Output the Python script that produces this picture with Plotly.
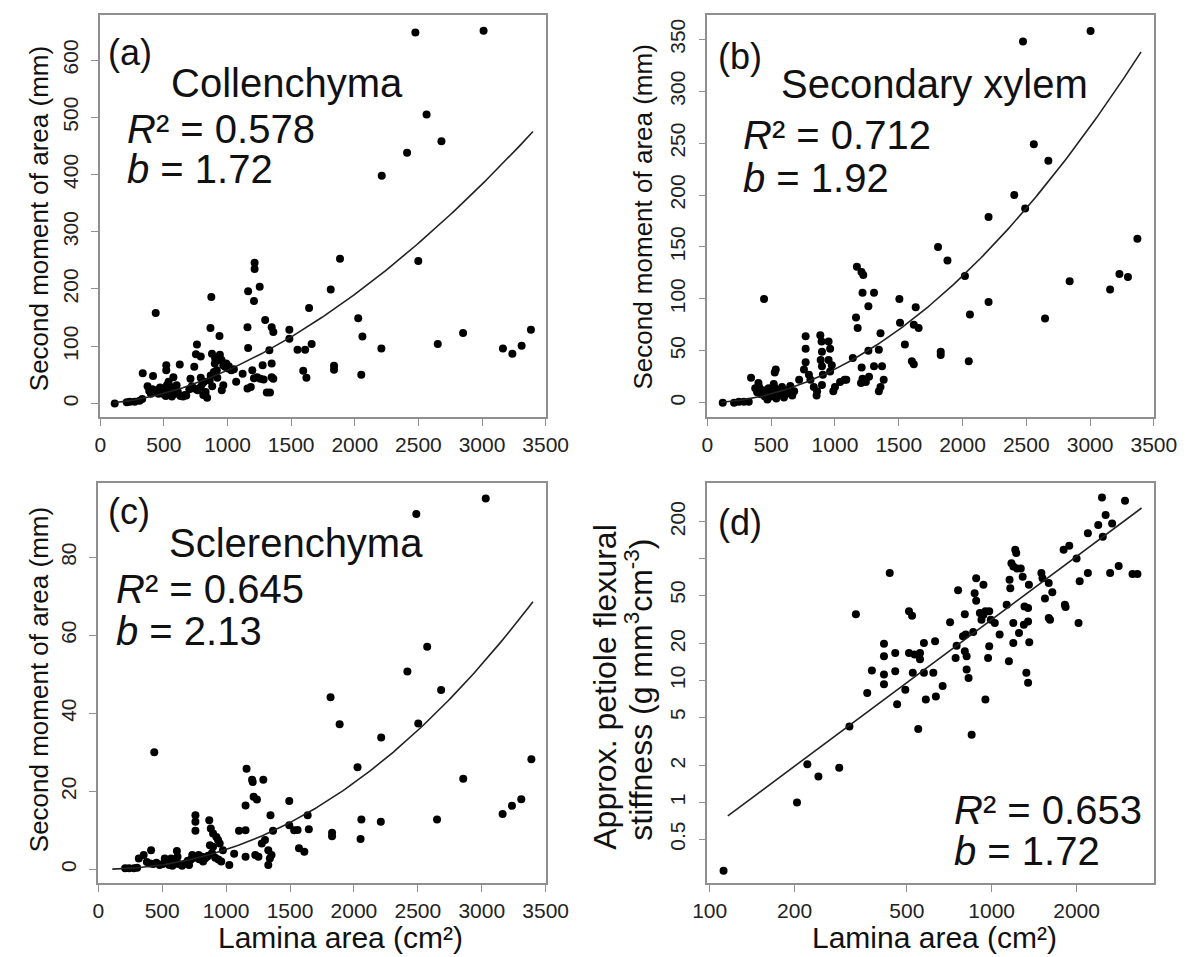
import plotly.graph_objects as go
import numpy as np

W, H = 1203, 957
FONT = "Liberation Sans, Arial, sans-serif"

# ---------------- data ----------------
# (a) Collenchyma: lamina area (cm2) vs second moment of area
area_a = [114, 208, 233, 271, 309, 330, 334, 415, 436, 372, 385, 398, 420, 445, 458, 485, 500, 525, 550, 563,
          590, 600, 630, 665, 410, 470, 515, 540, 610, 519, 519, 575, 625, 537, 524, 580, 600, 676, 651, 709,
          739, 760, 752, 790, 765, 790, 803, 815, 739, 840, 828, 873, 866, 937, 878, 903, 928, 953, 967, 980,
          1005, 1030, 868, 893, 916, 955, 967, 1068, 1119, 1195, 1208, 1157, 1162, 1208, 1213, 1213, 1253, 1162,
          1296, 1347, 1360, 1329, 1233, 1258, 1157, 1183, 1284, 1347, 1347, 1360, 1309, 1334, 1276, 1486, 1486,
          1550, 1610, 1595, 1620, 1641, 1661, 1811, 1837, 1837, 1884, 2027, 2060, 2051, 2212, 2209, 2411, 2476,
          2499, 2564, 2681, 2652, 2851, 3012, 3164, 3238, 3311, 3384,
          900, 940, 990, 1010, 860, 880, 920, 1050, 700, 720, 790, 810]
sma_a = [0, 2, 3, 3, 5, 8, 53, 48, 158, 30, 22, 17, 20, 23, 17, 23, 16, 26, 20, 12,
         17, 23, 13, 15, 25, 28, 13, 18, 20, 67, 58, 46, 68, 38, 32, 29, 32, 14, 12, 43,
         64, 103, 86, 82, 23, 29, 35, 38, 26, 10, 20, 186, 132, 118, 87, 79, 76, 76, 67, 64,
         61, 58, 49, 55, 58, 23, 32, 38, 52, 58, 44, 133, 196, 179, 246, 235, 204, 97,
         146, 133, 125, 93, 46, 43, 26, 29, 42, 70, 46, 43, 19, 19, 67, 129, 113,
         94, 94, 57, 45, 167, 104, 199, 66, 59, 253, 149, 117, 50, 398, 96, 438, 648,
         249, 505, 458, 104, 123, 651, 96, 87, 101, 129,
         70, 85, 70, 65, 40, 30, 45, 60, 25, 30, 45, 15]

# (b) Secondary xylem
area_b = [120, 209, 247, 286, 324, 342, 444,
          375, 390, 405, 420, 435, 450, 465, 480, 495, 510, 520, 540, 555, 570, 585, 600, 615, 630, 650, 665,
          680, 400, 530, 470,
          536, 528, 719, 770, 770, 770, 757, 796, 808, 834, 860, 856,
          885, 895, 898, 888, 898, 905, 898,
          950, 962, 950, 975, 962,
          987, 1000, 1040, 1075, 1089,
          1140, 1165, 1178, 1209, 1216, 1204, 1242, 1267, 1216, 1306, 1262, 1262, 1344, 1357, 1306, 1369, 1382,
          1357, 1344,
          1172, 1208, 1222,
          1505, 1510, 1548, 1633, 1618, 1656, 1603, 1618,
          1808, 1882, 1829, 1829, 2019, 2204, 2058, 2049, 2204, 2406, 2491, 2474, 2559, 2673, 2647, 2840, 3004,
          3157, 3230, 3297, 3371]
sma_b = [0, 0, 1, 1, 1, 24, 100,
         14, 10, 15, 8, 12, 6, 10, 14, 6, 9, 18, 4, 12, 8, 15, 5, 12, 9, 16, 7,
         11, 19, 14, 3,
         32, 29, 22, 64, 52, 39, 32, 27, 22, 15, 11, 7,
         65, 59, 49, 41, 35, 27, 17,
         59, 52, 41, 36, 30,
         11, 15, 20, 22, 22,
         43, 82, 72, 34, 23, 19, 20, 25, 106, 106, 93, 50, 51, 67, 35, 35, 22,
         15, 11,
         131, 126, 123,
         100, 77, 56, 92, 75, 72, 40, 37,
         150, 137, 49, 46, 122, 97, 85, 40, 179, 200, 187, 348, 249, 233, 81, 117, 358,
         109, 124, 121, 158]

# (c) Sclerenchyma
area_c = [210, 241, 279, 304, 317, 355, 413, 438,
          380, 405, 430, 455, 480, 505, 530, 555, 580, 605, 630, 655, 680, 710, 520, 570, 620, 615,
          760, 760, 760, 735, 785, 810, 835, 850,
          868, 880, 898, 924, 937, 950,
          873, 898, 975, 962, 1025, 1063,
          1101, 1152, 1160, 1203, 1208, 1291, 1215, 1241, 1152,
          1152, 1228, 1253, 1279, 1304, 1330, 1342, 1330, 1355, 1347, 1367,
          1494, 1494, 1532, 1570, 1559, 1612, 1638, 1647,
          1817, 1888, 1829, 1829, 2028, 2058, 2052, 2213, 2210, 2418, 2488, 2503, 2573, 2682, 2650, 2855,
          3031, 3163, 3236, 3309, 3388,
          700, 725, 750, 790, 820, 860, 890, 915, 940]
sma_c = [0.3, 0.3, 0.3, 0.4, 2.8, 3.7, 4.9, 30,
         1.9, 1.5, 1.4, 1.7, 1.1, 1.4, 1.7, 1.1, 0.9, 1.5, 1.4, 0.9, 1.5, 1.1, 2.8, 2.8, 3.2, 4.7,
         13.9, 12.2, 9.9, 3.7, 3.7, 3.2, 2.8, 3.2,
         12.6, 10.5, 9.2, 8.3, 7.5, 6.6,
         6.2, 5.8, 4.9, 2.0, 1.1, 4.0,
         9.9, 10.0, 25.8, 23, 22.4, 23, 18.6, 17.9, 16.4,
         3.2, 3.7, 3.2, 6.6, 7.5, 4.9, 2.8, 1.1, 3.7, 13.9, 9.9,
         17.5, 11.3, 10, 5.4, 10.1, 4.5, 13.9, 10.3,
         44.1, 37.2, 9.4, 8.5, 26.2, 12.8, 7.8, 33.8, 12.2, 50.7, 91.1, 37.4, 57.1, 46, 12.8, 23.2,
         95.1, 14.2, 16.3, 18, 28.2,
         2.2, 2.5, 3.0, 2.6, 2.0, 3.5, 4.2, 3.0, 2.5]

# (d) approx. petiole flexural stiffness (log-log)
area_d = [112, 204, 222, 243, 288, 313, 330, 362, 376, 415, 415, 415, 415, 435, 455, 455, 462, 494, 509, 522,
          509, 533, 525, 557, 557, 549, 575, 584, 575, 621, 630, 634, 670, 712, 751, 745, 760, 791, 809, 803,
          815, 815, 828, 803, 849, 860, 881, 870, 881, 935, 908, 935, 950, 980, 993, 920, 950, 971, 980, 1026,
          1067, 1130, 1151, 1157, 1164, 1175, 1193, 1212, 1222, 1230, 1268, 1193, 1193, 1250, 1288, 1307, 1346,
          1300, 1327, 1346, 1355, 1346, 1359, 1500, 1514, 1545, 1593, 1640, 1593, 1610, 1799, 1884, 1818, 1828,
          2000, 2032, 2051, 2193, 2193, 2387, 2477, 2461, 2535, 2630, 2673, 2820, 2970, 3157, 3287]
stiff_d = [0.276, 1.0, 2.06, 1.63, 1.93, 4.2, 35, 7.9, 12.1, 20, 15.8, 11.2, 9.3, 76, 16.8, 11.9, 6.4, 8.4, 36.9, 34,
           16.8, 16.3, 11.6, 14.9, 16.8, 4.0, 20.3, 7.0, 11.6, 11.6, 21, 7.4, 9.0, 30, 19.3, 15.3, 55, 23, 23.8, 17.4,
           15.8, 12.3, 10.5, 35, 3.6, 25, 69, 52, 45, 61, 35.7, 34.6, 36.9, 37, 31.5, 31.5, 7.0, 15.3, 19.1, 29.6,
           23.8, 41.8, 14.4, 67, 57, 91.6, 86, 118, 111, 83, 83, 29.6, 20.3, 24.5, 71, 40.5, 39.3,
           28.7, 11.6, 9.6, 61, 30.5, 20.6, 76, 69, 47, 63, 53, 32.5, 31.5, 118, 127, 41.8, 40,
           100, 29.6, 65, 76, 161, 188, 151, 317, 227, 76, 194, 87, 298, 74.5, 74.5]

# power-law fits: y = y_end * (x / x_end) ** b
fit_b = [1.72, 1.92, 2.13, 1.72]
fit_y_end = [475, 338, 68.6, 259.5]
fit_x_start = [103, 110, 110, 116]
fit_x_end = 3400

labels = ["(a)", "(b)", "(c)", "(d)"]
tissue = ["Collenchyma", "Secondary xylem", "Sclerenchyma", None]
r2_text = ["0.578", "0.712", "0.645", "0.653"]
b_text = ["1.72", "1.92", "2.13", "1.72"]

lin_xticks = [0, 500, 1000, 1500, 2000, 2500, 3000, 3500]
a_yticks = [0, 100, 200, 300, 400, 500, 600]
b_yticks = [0, 50, 100, 150, 200, 250, 300, 350]
c_yticks = [0, 20, 40, 60, 80]
d_xticks = [100, 200, 500, 1000, 2000]
d_yticks = [0.5, 1, 2, 5, 10, 20, 50, 200]
d_yminor = [100]

for n, a, b in [("a", area_a, sma_a), ("b", area_b, sma_b), ("c", area_c, sma_c), ("d", area_d, stiff_d)]:
    assert len(a) == len(b), (n, len(a), len(b))

# ---------------- layout geometry (pixels) ----------------
boxes = {  # left, right, top, bottom
    1: (88, 548, 15, 417),
    2: (715, 1176, 15, 417),
    3: (86, 548, 483, 883),
    4: (715, 1176, 483, 883),
}


def P(x, y):
    return x / W, 1 - y / H


fig = go.Figure()
series = [(area_a, sma_a), (area_b, sma_b), (area_c, sma_c), (area_d, stiff_d)]
for i, (xs, ys) in enumerate(series):
    k = i + 1
    xa = "x" if k == 1 else f"x{k}"
    ya = "y" if k == 1 else f"y{k}"
    fig.add_trace(go.Scatter(x=xs, y=ys, mode="markers", xaxis=xa, yaxis=ya,
                             marker=dict(color="black", size=8, line=dict(width=0)),
                             showlegend=False, hoverinfo="skip"))
    if k == 4:
        gx = np.geomspace(fit_x_start[i], fit_x_end, 200)
    else:
        gx = np.linspace(fit_x_start[i], fit_x_end, 200)
    gy = fit_y_end[i] * (gx / fit_x_end) ** fit_b[i]
    fig.add_trace(go.Scatter(x=gx, y=gy, mode="lines", xaxis=xa, yaxis=ya,
                             line=dict(color="#222", width=1.6), showlegend=False, hoverinfo="skip"))

axis_common = dict(showline=True, mirror=True, linecolor="#8f8f8f", linewidth=1.6,
                   ticks="outside", ticklen=7, tickwidth=1.4, tickcolor="#8f8f8f",
                   showgrid=False, zeroline=False,
                   tickfont=dict(family=FONT, size=21, color="#222"))

layout = dict(width=W, height=H, margin=dict(l=0, r=0, t=0, b=0),
              paper_bgcolor="white", plot_bgcolor="white", showlegend=False)

yranges = {1: [-23.6, 678.6], 2: [-13.8, 373.5], 3: [-3.5, 99.05]}
yticks = {1: a_yticks, 2: b_yticks, 3: c_yticks}
for k, (l, r, t, btm) in boxes.items():
    xn = "xaxis" if k == 1 else f"xaxis{k}"
    yn = "yaxis" if k == 1 else f"yaxis{k}"
    yid = "y" if k == 1 else f"y{k}"
    xid = "x" if k == 1 else f"x{k}"
    xd = [l / W, r / W]
    yd = [1 - btm / H, 1 - t / H]
    if k < 4:
        layout[xn] = dict(axis_common, domain=xd, anchor=yid, range=[0, 3500],
                          tickvals=lin_xticks, ticklabelstandoff=1)
        layout[yn] = dict(axis_common, domain=yd, anchor=xid, range=yranges[k],
                          tickvals=yticks[k], tickangle=-90, ticklabelstandoff=5)
    else:
        layout[xn] = dict(axis_common, domain=xd, anchor=yid, type="log",
                          range=[1.992, 3.575], tickvals=d_xticks,
                          ticktext=[str(v) for v in d_xticks], ticklabelstandoff=1)
        layout[yn] = dict(axis_common, domain=yd, anchor=xid, type="log",
                          range=[-0.66, 2.619], tickvals=d_yticks,
                          ticktext=[f"{v:g}" for v in d_yticks],
                          minor=dict(tickvals=d_yminor, ticks="outside", ticklen=7,
                                     tickwidth=1.4, tickcolor="#8f8f8f", showgrid=False),
                          tickangle=-90, ticklabelstandoff=5)

fig.update_layout(**layout)


def add_text(text, x, y, size, xanchor="left", angle=0, color="#111"):
    px, py = P(x, y)
    fig.add_annotation(text=text, x=px, y=py, xref="paper", yref="paper",
                       xanchor=xanchor, yanchor="middle", showarrow=False,
                       textangle=angle, font=dict(family=FONT, size=size, color=color))


# panel labels, tissue names, statistics
lab_pos = [(94, 52), (724, 56), (94, 511), (724, 522)]
tis_pos = [(281, 83), (950, 84), (290, 543), None]
r2_pos = [(114, 129), (750, 135), (102, 589), (968, 810)]
b_pos = [(114, 169), (750, 178), (102, 631), (968, 851)]
for i in range(4):
    add_text(labels[i], *lab_pos[i], 36)
    if tissue[i]:
        add_text(tissue[i], *tis_pos[i], 40, xanchor="center")
    add_text(f"<i>R</i>² = {r2_text[i]}", *r2_pos[i], 40)
    add_text(f"<i>b</i> = {b_text[i]}", *b_pos[i], 40)

# axis titles
add_text("Second moment of area (mm)", 25, 219, 26, xanchor="center", angle=-90)
add_text("Second moment of area (mm)", 648, 217, 26, xanchor="center", angle=-90)
add_text("Second moment of area (mm)", 25, 680, 26, xanchor="center", angle=-90)
add_text("Approx. petiole flexural", 609, 687, 32, xanchor="center", angle=-90)
add_text("stiffness (g mm<sup>3</sup>cm<sup>-3</sup>)", 644, 690, 32, xanchor="center", angle=-90)
add_text("Lamina area (cm²)", 336, 937, 30, xanchor="center")
add_text("Lamina area (cm²)", 950, 937, 30, xanchor="center")

fig.write_html("out.html")
